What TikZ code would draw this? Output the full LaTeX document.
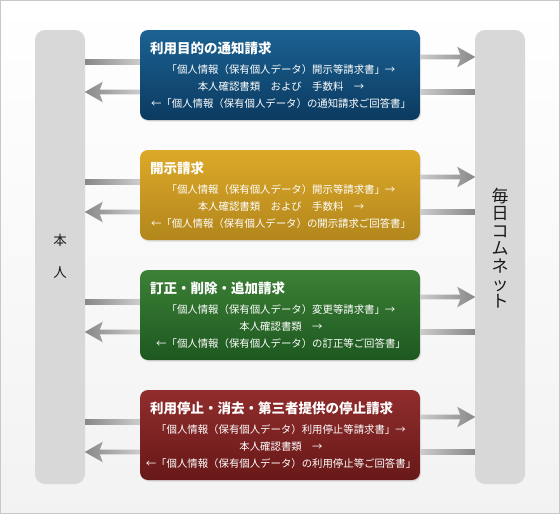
\documentclass[tikz,border=0pt]{standalone}
\usepackage{fontspec}
\newfontfamily\cjk{Noto Sans CJK JP}
\usetikzlibrary{shadows,calc}
\definecolor{bluA}{HTML}{1B6293}\definecolor{bluB}{HTML}{0B3A60}
\definecolor{golA}{HTML}{DCA928}\definecolor{golB}{HTML}{B2861C}
\definecolor{grnA}{HTML}{3C8036}\definecolor{grnB}{HTML}{1E5820}
\definecolor{redA}{HTML}{912D2D}\definecolor{redB}{HTML}{681818}
\definecolor{barA}{HTML}{D8D8D8}\definecolor{barB}{HTML}{E8E8E8}
\definecolor{frame}{HTML}{C8C8C8}
\definecolor{arrD}{HTML}{888888}\definecolor{arrL}{HTML}{CCCCCC}
\tikzset{
  bar/.style={rounded corners=10pt, top color=barA, middle color=barB, bottom color=barA, draw=none},
  reqbox/.style={rounded corners=8pt, minimum width=280pt, minimum height=90pt, inner sep=0pt,
     shading angle=45, drop shadow={shadow xshift=1pt, shadow yshift=-1.5pt, opacity=0.22}},
  ttl/.style={anchor=west, text=white, font=\cjk\bfseries\fontsize{13.5}{14}\selectfont, inner sep=0pt},
  body/.style={text=white, align=center, font=\cjk\fontsize{10.4}{17}\selectfont, inner sep=0pt},
  toR/.style={left color=arrL, right color=arrD},
  toL/.style={left color=arrD, right color=arrL},
}
\begin{document}
\begin{tikzpicture}[x=1pt,y=-1pt]
\useasboundingbox (0,0) rectangle (560,514);
\shade[top color=white, bottom color=black!5, draw=frame, line width=1pt] (0.5,0.5) rectangle (559.5,513.5);
% bars
\shade[bar] (35,30) rectangle (85,484);
\node[inner sep=0pt, minimum width=50pt, minimum height=454pt] (L) at (60,257) {};
\shade[bar] (475,30) rectangle (525,484);
\node[inner sep=0pt, minimum width=50pt, minimum height=454pt] (R) at (500,257) {};
\node[font=\cjk\fontsize{13.5}{32}\selectfont, align=center, text=black!90, inner sep=0pt] (hon) at (60,256) {本\\人};
\node[font=\cjk\fontsize{17}{17.6}\selectfont, align=center, text=black!90, inner sep=0pt] (mc) at (500,248) {毎\\日\\コ\\ム\\ネ\\ッ\\ト};
% boxes
\node[reqbox, top color=bluA, bottom color=bluB] (b1) at (280,75) {};
\node[reqbox, top color=golA, bottom color=golB] (b2) at (280,195) {};
\node[reqbox, top color=grnA, bottom color=grnB] (b3) at (280,315) {};
\node[reqbox, top color=redA, bottom color=redB] (b4) at (280,435) {};
% arrows
\foreach \b/\t in {b1/30,b2/150,b3/270,b4/390}{
  % right arrow: box -> R
  \shade[toR] (\b.east |- 0,\t+27) ++(0,-2.3) -- ++(40,0) -- ++(-3,-8) -- ++(18,10.3) -- ++(-18,10.3) -- ++(3,-8) -- ++(-40,0) -- cycle;
  % right line: R -> box
  \shade[toR] ($(\b.east |- 0,\t+62)+(0,-2.3)$) rectangle ($(R.west |- 0,\t+62)+(0,2.3)$);
  % left line: L -> box
  \shade[toL] ($(L.east |- 0,\t+32)+(0,-2.3)$) rectangle ($(\b.west |- 0,\t+32)+(0,2.3)$);
  % left arrow: box -> L
  \shade[toL] (\b.west |- 0,\t+62) ++(0,-2.3) -- ++(-40,0) -- ++(3,-8) -- ++(-18,10.3) -- ++(18,10.3) -- ++(-3,-8) -- ++(40,0) -- cycle;
}
% texts
\node[ttl] (t1) at (150,48) {利用目的の通知請求};
\node[body] (x1) at (281,87) {「個人情報（保有個人データ）開示等請求書」→\\本人確認書類　および　手数料　→\\←「個人情報（保有個人データ）の通知請求ご回答書」};
\node[ttl] (t2) at (150,168) {開示請求};
\node[body] (x2) at (281,207) {「個人情報（保有個人データ）開示等請求書」→\\本人確認書類　および　手数料　→\\←「個人情報（保有個人データ）の開示請求ご回答書」};
\node[ttl] (t3) at (150,288) {訂正・削除・追加請求};
\node[body] (x3) at (281,327) {「個人情報（保有個人データ）変更等請求書」→\\本人確認書類　→\\←「個人情報（保有個人データ）の訂正等ご回答書」};
\node[ttl] (t4) at (150,408) {利用停止・消去・第三者提供の停止請求};
\node[body] (x4) at (281,447) {「個人情報（保有個人データ）利用停止等請求書」→\\本人確認書類　→\\←「個人情報（保有個人データ）の利用停止等ご回答書」};
\end{tikzpicture}
\end{document}
